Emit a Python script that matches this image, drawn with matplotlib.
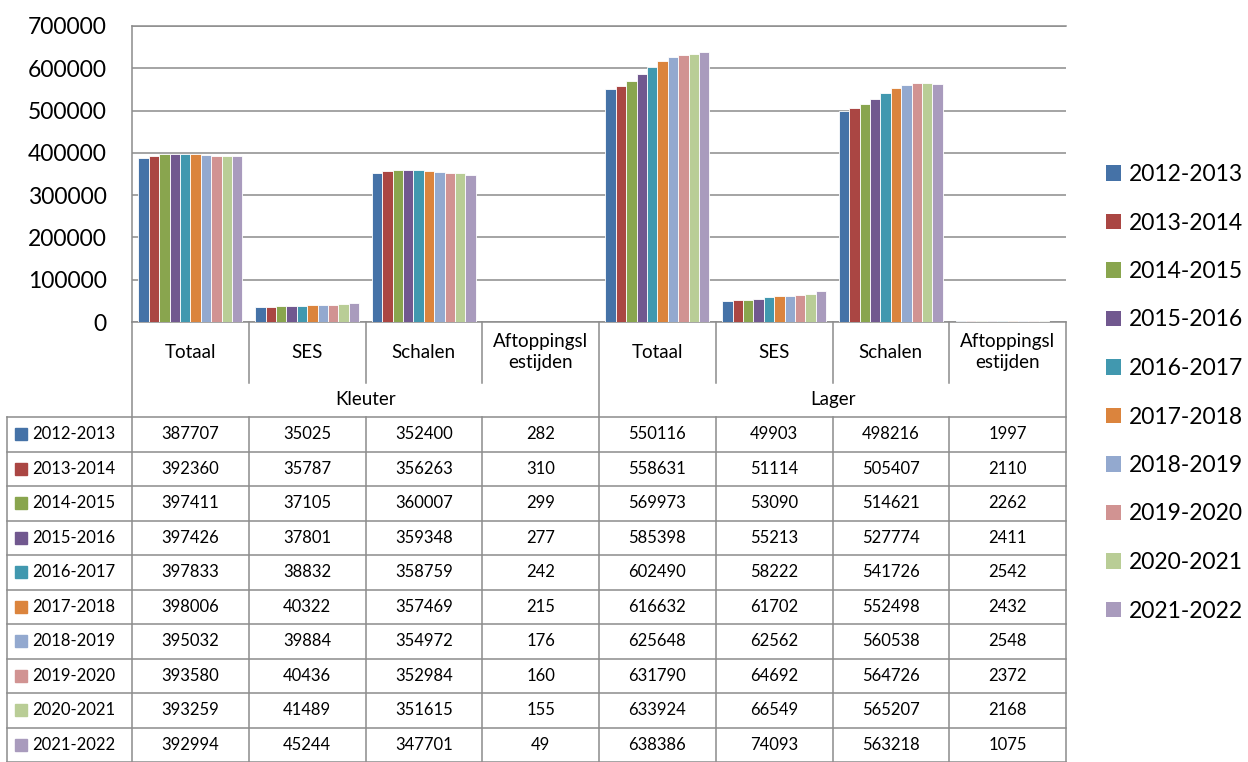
import matplotlib
matplotlib.use("Agg")
import matplotlib.pyplot as plt
from matplotlib.patches import Patch, Rectangle
import numpy as np

plt.rcParams["font.family"] = ["Lato", "DejaVu Sans"]

# ---------------------------------------------------------------------------
# Data
# ---------------------------------------------------------------------------

years = ["2012-2013", "2013-2014", "2014-2015", "2015-2016", "2016-2017",
         "2017-2018", "2018-2019", "2019-2020", "2020-2021", "2021-2022"]
groups = ["Kleuter", "Lager"]
measures = ["Totaal", "SES", "Schalen", "Aftoppingsl\nestijden"]

kleuter_totaal  = [387707, 392360, 397411, 397426, 397833, 398006, 395032, 393580, 393259, 392994]
kleuter_ses     = [35025, 35787, 37105, 37801, 38832, 40322, 39884, 40436, 41489, 45244]
kleuter_schalen = [352400, 356263, 360007, 359348, 358759, 357469, 354972, 352984, 351615, 347701]
kleuter_aftop   = [282, 310, 299, 277, 242, 215, 176, 160, 155, 49]
lager_totaal    = [550116, 558631, 569973, 585398, 602490, 616632, 625648, 631790, 633924, 638386]
lager_ses       = [49903, 51114, 53090, 55213, 58222, 61702, 62562, 64692, 66549, 74093]
lager_schalen   = [498216, 505407, 514621, 527774, 541726, 552498, 560538, 564726, 565207, 563218]
lager_aftop     = [1997, 2110, 2262, 2411, 2542, 2432, 2548, 2372, 2168, 1075]

colors = ["#4572A7", "#AA4643", "#89A54E", "#71588F", "#4198AF",
          "#DB843D", "#93A9CF", "#D19392", "#B9CD96", "#A99BBD"]

# columns: Kleuter x 4 measures, then Lager x 4 measures
values = np.array([kleuter_totaal, kleuter_ses, kleuter_schalen, kleuter_aftop,
                   lager_totaal, lager_ses, lager_schalen, lager_aftop]).T
n_cols = values.shape[1]

LINE = "#8C8C8C"

# ---------------------------------------------------------------------------
# Figure / chart
# ---------------------------------------------------------------------------

W, H = 1248, 762
fig = plt.figure(figsize=(W / 100, H / 100), dpi=100)

ax = fig.add_axes([132 / W, 1 - 322 / H, (1066 - 132) / W, (322 - 26) / H])
bar_w = 0.089
x = np.arange(n_cols) + 0.5
for j, yr in enumerate(years):
    ax.bar(x + (j - 4.5) * bar_w, values[j], bar_w, color=colors[j],
           edgecolor="white", linewidth=0.6, zorder=3)

ax.set_xlim(0, n_cols)
ax.set_ylim(0, 700000)
ax.set_yticks(np.arange(0, 700001, 100000))
ax.set_yticklabels([str(v) for v in range(0, 700001, 100000)], fontsize=16.5)
ax.tick_params(axis="y", length=0, pad=18)
ax.set_xticks([])
ax.yaxis.grid(True, color=LINE, linewidth=1.1)
ax.set_axisbelow(True)
for side in ["left", "top", "bottom"]:
    ax.spines[side].set_color(LINE)
    ax.spines[side].set_linewidth(1.1)
ax.spines["right"].set_visible(False)

# ---------------------------------------------------------------------------
# Category axis + data table
# ---------------------------------------------------------------------------

ROW_PX = 34.5
tab = fig.add_axes([7 / W, 0, (1066 - 7) / W, (H - 322) / H])
left = -(132 - 7) / 116.75
hdr = (383 - 322) / ROW_PX
top = (417 - 322) / ROW_PX
bottom = top + len(years)
tab.set_xlim(left, n_cols)
tab.set_ylim(bottom, 0)
tab.axis("off")

lk = dict(color=LINE, linewidth=1.1, clip_on=False)
# label row dividers
for c in range(n_cols + 1):
    if c in (0, 4, n_cols):
        tab.plot([c, c], [0, bottom], **lk)
    else:
        tab.plot([c, c], [0, hdr], **lk)
        tab.plot([c, c], [top, bottom], **lk)
tab.plot([left, left], [top, bottom], **lk)
for r in range(len(years) + 1):
    tab.plot([left, n_cols], [top + r, top + r], **lk)

for c in range(n_cols):
    tab.text(c + 0.5, 0.87, measures[c % 4], ha="center", va="center",
             fontsize=13.5, linespacing=1.35)
for g, name in enumerate(groups):
    tab.text(g * 4 + 2, (hdr + top) / 2, name, ha="center", va="center",
             fontsize=13.5)

for j, yr in enumerate(years):
    yc = top + j + 0.5
    tab.add_patch(Rectangle((left + 0.068, yc - 0.17), 0.103, 0.34,
                            color=colors[j], clip_on=False))
    tab.text(left + 0.215, yc, yr, ha="left", va="center", fontsize=12)
    for c in range(n_cols):
        tab.text(c + 0.5, yc, str(values[j, c]), ha="center", va="center",
                 fontsize=12)

# ---------------------------------------------------------------------------
# Legend
# ---------------------------------------------------------------------------

handles = [Patch(facecolor=colors[j], edgecolor="none") for j in range(len(years))]
fig.legend(handles, years, loc="upper left", bbox_to_anchor=(1106 / W, 1 - 164 / H),
           frameon=False, fontsize=16.5, handlelength=0.65, handleheight=0.65,
           handletextpad=0.35, labelspacing=1.2, borderpad=0, borderaxespad=0)

fig.savefig("out.png", dpi=100)
